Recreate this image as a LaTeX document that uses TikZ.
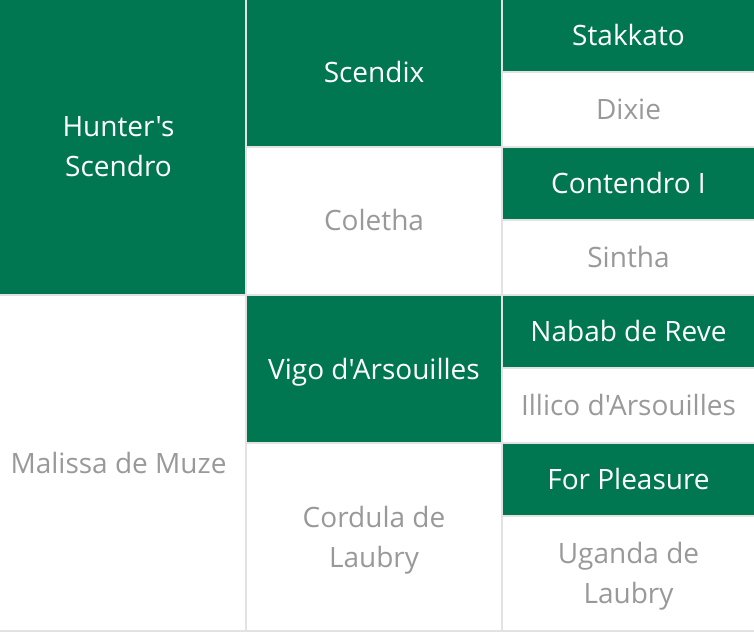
\documentclass[tikz,border=0pt]{standalone}
\usepackage{fontspec}
\setmainfont{Open Sans}[Ligatures=TeXOff]
\definecolor{hgreen}{HTML}{007750}
\definecolor{hgray}{HTML}{999999}
\definecolor{hline}{HTML}{E2E2E2}
\newcommand\cellstrut{\rule[-10pt]{0pt}{40pt}}
\begin{document}
\begin{tikzpicture}[x=1pt,y=-1pt,
 cell/.style={anchor=north west, inner sep=0pt, outer sep=0pt, align=center, font=\fontsize{28}{40}\selectfont},
 gcell/.style={cell, fill=hgreen, text=white},
 wcell/.style={cell, fill=white, text=hgray}]
\useasboundingbox (0,0) rectangle (754,636);
\clip (0,0) rectangle (754,636);
\fill[white] (0,0) rectangle (754,636);
\fill[hline] (0,0) rectangle (754,632);
% column 1
\node[gcell, minimum width=253pt, minimum height=294pt] (hs) at (-8,0) {\cellstrut Hunter's\\\cellstrut Scendro};
\node[wcell, minimum width=253pt, minimum height=334pt] (mm) at (-8,296) {\cellstrut Malissa de Muze};
% column 2
\node[gcell, minimum width=254pt, minimum height=146pt] (sx) at (247,0) {\cellstrut Scendix};
\node[wcell, minimum width=254pt, minimum height=146pt] (co) at (247,148) {\cellstrut Coletha};
\node[gcell, minimum width=254pt, minimum height=146pt] (va) at (247,296) {\cellstrut Vigo d'Arsouilles};
\node[wcell, minimum width=254pt, minimum height=186pt] (cl) at (247,444) {\cellstrut Cordula de\\\cellstrut Laubry};
% column 3
\node[gcell, minimum width=251pt, minimum height=71pt] (st) at (503,0) {\cellstrut Stakkato};
\node[wcell, minimum width=251pt, minimum height=73pt] (dx) at (503,73) {\cellstrut Dixie};
\node[gcell, minimum width=251pt, minimum height=71pt] (ct) at (503,148) {\cellstrut Contendro I};
\node[wcell, minimum width=251pt, minimum height=73pt] (si) at (503,221) {\cellstrut Sintha};
\node[gcell, minimum width=251pt, minimum height=71pt] (nr) at (503,296) {\cellstrut Nabab de Reve};
\node[wcell, minimum width=251pt, minimum height=73pt] (ia) at (503,369) {\cellstrut Illico d'Arsouilles};
\node[gcell, minimum width=251pt, minimum height=71pt] (fp) at (503,444) {\cellstrut For Pleasure};
\node[wcell, minimum width=251pt, minimum height=113pt] (ul) at (503,517) {\cellstrut Uganda de\\\cellstrut Laubry};
\end{tikzpicture}
\end{document}
